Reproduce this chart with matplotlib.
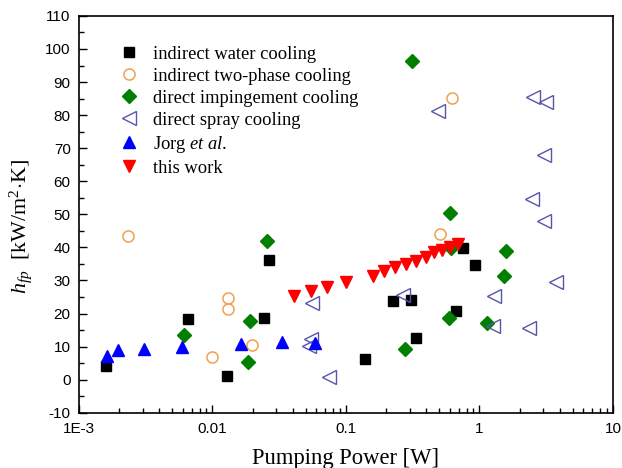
import matplotlib
matplotlib.use("Agg")
import matplotlib.pyplot as plt
from matplotlib.ticker import FixedLocator, LogLocator, MultipleLocator, NullFormatter

plt.rcParams['mathtext.fontset'] = 'custom'
plt.rcParams['mathtext.rm'] = 'Liberation Serif'
plt.rcParams['mathtext.it'] = 'Liberation Serif:italic'
plt.rcParams['axes.unicode_minus'] = False

# indirect water cooling
water_x = [0.0016, 0.00655, 0.0128, 0.0265, 0.0244, 0.138, 0.224, 0.308, 0.333, 0.757, 0.925, 0.67]
water_y = [4.1, 18.3, 1.1, 36.1, 18.7, 6.3, 23.9, 24.1, 12.6, 39.7, 34.6, 20.8]

# indirect two-phase cooling
twophase_x = [0.00232, 0.013, 0.0131, 0.010, 0.0199, 0.503, 0.619]
twophase_y = [43.6, 24.7, 21.3, 6.9, 10.4, 44.1, 85.2]

# direct impingement cooling
imping_x = [0.00615, 0.0191, 0.0186, 0.0256, 0.278, 0.591, 0.612, 1.145, 1.52, 1.59, 0.314, 0.601]
imping_y = [13.6, 17.8, 5.3, 41.8, 9.2, 18.7, 39.7, 17.2, 31.3, 38.8, 96.4, 50.3]

# direct spray cooling
spray_x = [0.492, 2.53, 3.13, 3.03, 2.49, 3.02, 3.74, 1.28, 1.26, 2.35,
           0.0553, 0.0546, 0.0527, 0.0742, 0.269]
spray_y = [81.2, 85.6, 84.1, 67.8, 54.5, 48.1, 29.4, 25.2, 16.2, 15.7,
           23.1, 12.2, 10.3, 0.7, 25.7]

# Jorg et al.
jorg_x = [0.00162, 0.00197, 0.00307, 0.00594, 0.0163, 0.0332, 0.0586]
jorg_y = [7.3, 9.0, 9.2, 9.8, 10.7, 11.4, 11.2]

# this work
work_x = [0.0408, 0.0544, 0.0721, 0.100, 0.158, 0.193, 0.233, 0.281, 0.336,
          0.395, 0.456, 0.524, 0.60, 0.694]
work_y = [25.3, 26.9, 28.1, 29.5, 31.5, 32.8, 34.0, 35.0, 35.8,
          37.1, 38.6, 39.3, 40.2, 41.0]

fig = plt.figure(figsize=(6.22, 4.68), dpi=100)
ax = fig.add_axes([0.127, 0.118, 0.8585, 0.848])

ax.plot(water_x, water_y, 's', color='black', ms=7.5, ls='none', label='indirect water cooling')
ax.plot(twophase_x, twophase_y, 'o', mfc='none', mec='#f0a050', mew=1.1, ms=8, ls='none',
        label='indirect two-phase cooling')
ax.plot(imping_x, imping_y, 'D', color='#007f00', ms=7, ls='none', label='direct impingement cooling')
ax.plot(spray_x, spray_y, '<', mfc='none', mec='#5555aa', mew=1.0, ms=9.5, ls='none',
        label='direct spray cooling')
ax.plot(jorg_x, jorg_y, '^', color='#0000ff', ms=9, ls='none', label=r'Jorg $et\ al.$')
ax.plot(work_x, work_y, 'v', color='#ff0000', ms=9, ls='none', label='this work')

ax.set_xscale('log')
ax.set_xlim(1e-3, 10)
ax.set_ylim(-10, 110)

ax.xaxis.set_major_locator(FixedLocator([1e-3, 1e-2, 1e-1, 1, 10]))
ax.set_xticklabels(['1E-3', '0.01', '0.1', '1', '10'])
ax.xaxis.set_minor_locator(LogLocator(base=10, subs=range(2, 10), numticks=20))
ax.xaxis.set_minor_formatter(NullFormatter())
ax.yaxis.set_major_locator(MultipleLocator(10))
ax.yaxis.set_minor_locator(MultipleLocator(5))

ax.tick_params(which='both', direction='in', top=False, right=False)
ax.tick_params(which='major', length=6, width=1.0, labelsize=11)
ax.tick_params(axis='x', which='major', pad=7)
ax.tick_params(axis='y', which='major', pad=6)
ax.tick_params(which='minor', length=3.5, width=1.0)
for lab in ax.get_xticklabels() + ax.get_yticklabels():
    lab.set_fontfamily('Liberation Sans')

for sp in ax.spines.values():
    sp.set_linewidth(1.2)

ax.set_xlabel('Pumping Power [W]', fontsize=16.3, family='Liberation Serif')
ax.xaxis.set_label_coords(0.5, -0.088)
ax.set_ylabel(r'$h_{fp}$  [kW/m$^2$$\cdot$K]', fontsize=15.8, family='Liberation Serif')
ax.yaxis.set_label_coords(-0.084, 0.468)

leg = ax.legend(loc='upper left', bbox_to_anchor=(0.045, 0.967), frameon=False,
                prop={'family': 'Liberation Serif', 'size': 13.3},
                handletextpad=0.8, labelspacing=0.27, handlelength=1.0)

fig.savefig('out.png', dpi=100)
